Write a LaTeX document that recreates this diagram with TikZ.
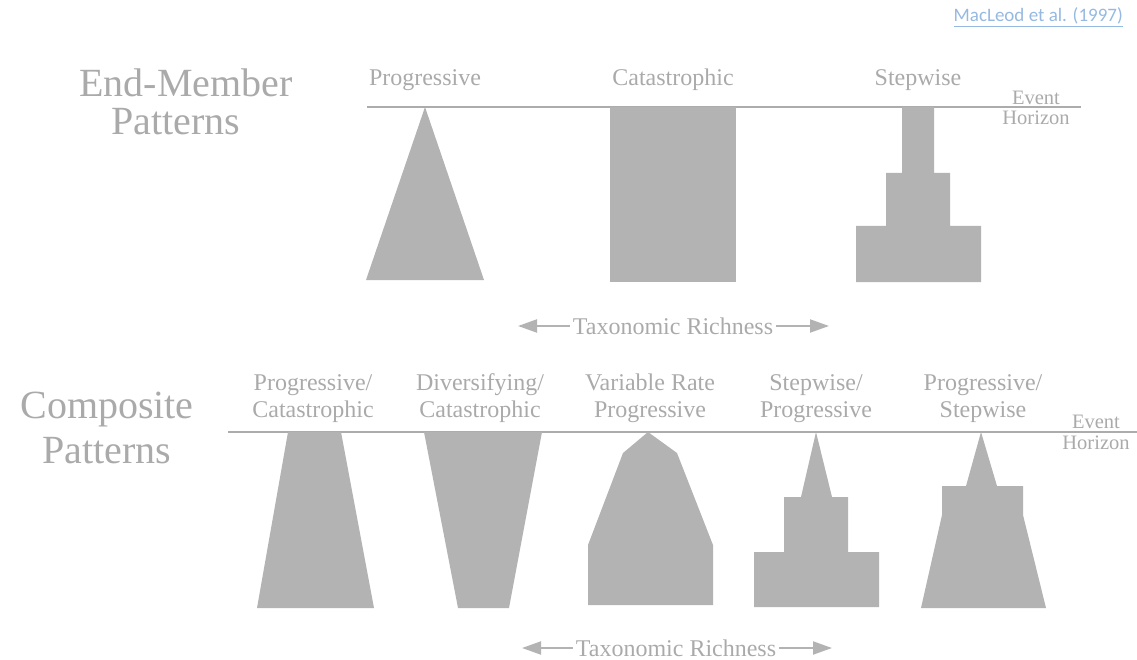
\documentclass[tikz,border=0pt]{standalone}
\usepackage{fontspec}
\setmainfont{Liberation Serif}
\newfontfamily\linkfont{Carlito}
\usetikzlibrary{arrows.meta}
\definecolor{shade}{RGB}{179,179,179}
\definecolor{ink}{RGB}{170,170,170}
\definecolor{rulegray}{RGB}{172,172,172}
\definecolor{linkblue}{RGB}{150,185,225}
\begin{document}
\begin{tikzpicture}[x=1pt,y=-1pt,
  block/.style={fill=shade, draw=none},
  horizon/.style={draw=rulegray, line width=2pt},
  heading/.style={text=ink, font=\fontsize{40}{40}\selectfont, anchor=base, inner sep=0pt},
  pattern/.style={text=ink, font=\fontsize{24}{27}\selectfont, align=center, anchor=base, inner sep=0pt},
  evh/.style={text=ink, font=\fontsize{20.5}{21}\selectfont, anchor=base, inner sep=0pt},
  richlabel/.style={text=ink, font=\fontsize{24}{24}\selectfont, inner sep=3pt, text depth=0pt},
  richarrow/.style={draw=shade, line width=2pt, -{Triangle[length=19pt,width=13pt]}}]

\useasboundingbox (0,0) rectangle (1137,660);

% citation
\node[text=linkblue, font=\linkfont\fontsize{19}{19}\selectfont, anchor=base east, inner sep=0pt]
  (cite) at (1123,22) {\underline{MacLeod et al. (1997)}};

% ---------- end-member patterns ----------
\node[heading] (em1) at (186,97) {End-Member};
\node[heading] (em2) at (176,135) {Patterns};

\draw[horizon] (367,107) -- (1081,107);
\node[evh] (ev1) at (1036,105) {Event};
\node[evh] (hz1) at (1036,125) {Horizon};

\node[pattern] (prog) at (425,86) {Progressive};
\node[pattern] (cat) at (673,86) {Catastrophic};
\node[pattern] (step) at (918,86) {Stepwise};

% progressive: a triangle widening downwards
\fill[block] (366,280) -- (425,107) -- (484,280) -- cycle;
% catastrophic: constant richness
\fill[block] (610,107) rectangle (736,282);
% stepwise: three tiers
\fill[block] (902,107) -- (934,107) -- (934,173) -- (950,173) -- (950,226)
  -- (981,226) -- (981,282) -- (856,282) -- (856,226) -- (886,226)
  -- (886,173) -- (902,173) -- cycle;

\node[richlabel] (rich1) at (673,326) {Taxonomic Richness};
\coordinate (r1l) at (518,326);
\coordinate (r1r) at (829,326);
\draw[richarrow] (rich1.west) -- (r1l);
\draw[richarrow] (rich1.east) -- (r1r);

% ---------- composite patterns ----------
\node[heading] (cp1) at (107,418) {Composite};
\node[heading] (cp2) at (107,463) {Patterns};

\draw[horizon] (228,432) -- (1137,432);
\node[evh] (ev2) at (1096,428) {Event};
\node[evh] (hz2) at (1096,449) {Horizon};

% two-line labels: the base anchor sits on the second line
\node[pattern] (pc) at (313,417) {Progressive/\\Catastrophic};
\node[pattern] (dc) at (480,417) {Diversifying/\\Catastrophic};
\node[pattern] (vr) at (650,417) {Variable Rate\\Progressive};
\node[pattern] (sp) at (816,417) {Stepwise/\\Progressive};
\node[pattern] (ps) at (983,417) {Progressive/\\Stepwise};

% progressive/catastrophic
\fill[block] (288,432) -- (341,432) -- (374,608) -- (257,608) -- cycle;
% diversifying/catastrophic
\fill[block] (424,432) -- (542,432) -- (509,608) -- (458,608) -- cycle;
% variable rate progressive
\fill[block] (648,432) -- (677,453) -- (713,545) -- (713,605) -- (588,605)
  -- (588,545) -- (623,453) -- cycle;
% stepwise/progressive
\fill[block] (816,432) -- (832,497) -- (848,497) -- (848,552) -- (879,552)
  -- (879,607) -- (754,607) -- (754,552) -- (784,552) -- (784,497)
  -- (801,497) -- cycle;
% progressive/stepwise
\fill[block] (981,432) -- (997,486) -- (1023,486) -- (1023,515) -- (1046,608)
  -- (921,608) -- (942,515) -- (942,486) -- (966,486) -- cycle;

\node[richlabel] (rich2) at (676,648) {Taxonomic Richness};
\coordinate (r2l) at (522,648);
\coordinate (r2r) at (832,648);
\draw[richarrow] (rich2.west) -- (r2l);
\draw[richarrow] (rich2.east) -- (r2r);
\end{tikzpicture}
\end{document}
